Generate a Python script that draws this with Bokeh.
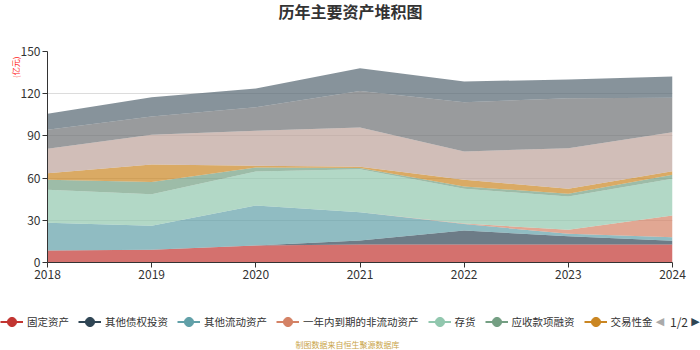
from bokeh.plotting import figure
from bokeh.models import ColumnDataSource, Range1d, FixedTicker, Label, Legend, LegendItem, Title
from bokeh.embed import file_html
from bokeh.resources import INLINE

# ---------------- data ----------------
years = [2018, 2019, 2020, 2021, 2022, 2023, 2024]
series_names = ["固定资产", "其他债权投资", "其他流动资产", "一年内到期的非流动资产",
                "存货", "应收款项融资", "交易性金融资产", "应收账款", "债权投资", "货币资金"]
legend_labels = ["固定资产", "其他债权投资", "其他流动资产", "一年内到期的非流动资产",
                 "存货", "应收款项融资", "交易性金"]
fixed_assets = [8.6, 9.0, 12.1, 12.8, 12.8, 12.8, 12.8]
other_debt_inv = [0.0, 0.0, 0.0, 2.9, 9.9, 5.9, 2.6]
other_current = [19.6, 17.1, 28.4, 20.0, 4.6, 1.7, 2.6]
noncurrent_due = [0.0, 0.0, 0.0, 0.0, 0.4, 2.8, 15.4]
inventory = [23.6, 22.5, 24.2, 30.6, 24.7, 23.7, 26.1]
receivable_fin = [7.0, 8.7, 2.8, 0.9, 1.6, 1.9, 2.8]
trading_fin = [4.7, 12.4, 1.2, 0.8, 4.8, 3.6, 2.6]
receivables = [17.3, 21.1, 24.9, 27.9, 20.1, 28.9, 27.7]
debt_inv = [13.5, 13.0, 16.8, 26.1, 35.1, 35.5, 24.5]
cash = [11.5, 13.7, 13.3, 16.1, 14.7, 13.3, 15.1]
y_ticks = [0, 30, 60, 90, 120, 150]

colors = ["#c23531", "#2f4554", "#61a0a8", "#d48265", "#91c7ae",
          "#749f83", "#ca8622", "#bda29a", "#6e7074", "#546570"]

values = [fixed_assets, other_debt_inv, other_current, noncurrent_due, inventory,
          receivable_fin, trading_fin, receivables, debt_inv, cash]
data = {"year": years}
for n, v in zip(series_names, values):
    data[n] = v
source = ColumnDataSource(data)

FONT = "Noto Sans CJK SC"
NAN = float("nan")


def strip(h):
    f = figure(width=700, height=h, output_backend="svg", toolbar_location=None,
               x_range=Range1d(0, 700), y_range=Range1d(h, 0),
               x_axis_type=None, y_axis_type=None, min_border=0)
    f.outline_line_color = None
    f.grid.visible = False
    return f


# ---------------- title strip ----------------
top = strip(30)
top.add_layout(Label(x=350, y=10, text="历年主要资产堆积图", text_align="center",
                     text_baseline="middle", text_font=FONT, text_font_size="16px",
                     text_font_style="bold", text_color="#333333"))

# ---------------- main chart ----------------
p = figure(width=700, height=260, output_backend="svg", toolbar_location=None,
           x_range=Range1d(2018, 2024), y_range=Range1d(0, 150),
           min_border_left=47, min_border_right=28, min_border_top=21, min_border_bottom=28)
p.outline_line_color = None

p.varea_stack(stackers=series_names, x="year", color=colors, fill_alpha=0.7, source=source)

p.xaxis.ticker = FixedTicker(ticks=years)
p.yaxis.ticker = FixedTicker(ticks=y_ticks)
for ax in (p.xaxis, p.yaxis):
    ax.axis_line_color = "#333333"
    ax.major_tick_line_color = "#333333"
    ax.major_tick_out = 5
    ax.major_tick_in = 0
    ax.minor_tick_line_color = None
    ax.major_label_text_font = FONT
    ax.major_label_text_font_size = "12px"
    ax.major_label_text_color = "#333333"
    ax.major_label_standoff = 2
p.xgrid.grid_line_color = None
p.ygrid.grid_line_color = "#dcdcdc"

p.add_layout(Title(text="(亿元)", align="right", text_font=FONT, text_font_size="8px",
                   text_color="#ff2020", text_font_style="normal", standoff=-6,
                   offset=5), "left")

# ---------------- legend / pager / source strip ----------------
bot = strip(60)
items = []
for lab, c in zip(legend_labels, colors):
    r1 = bot.line(x=[NAN], y=[NAN], line_color=c, line_width=2)
    r2 = bot.scatter(x=[NAN], y=[NAN], size=10, fill_color=c, line_color=c)
    items.append(LegendItem(label=lab, renderers=[r1, r2]))
legend = Legend(items=items, orientation="horizontal", location=(0, 16),
                glyph_width=23, glyph_height=25, label_standoff=4, spacing=9,
                padding=0, margin=0, border_line_color=None, background_fill_alpha=0,
                label_text_font=FONT, label_text_font_size="10.5px",
                label_text_color="#333333", label_height=14)
bot.add_layout(legend, "center")

bot.add_layout(Label(x=659.5, y=31, text="◀", text_align="center", text_baseline="middle",
                     text_font="DejaVu Sans", text_font_size="11px", text_color="#aaaaaa"))
bot.add_layout(Label(x=678.5, y=31, text="1/2", text_align="center", text_baseline="middle",
                     text_font=FONT, text_font_size="12px", text_color="#333333"))
bot.add_layout(Label(x=695, y=31, text="▶", text_align="center", text_baseline="middle",
                     text_font="DejaVu Sans", text_font_size="11px", text_color="#2f4554"))
bot.add_layout(Label(x=347, y=54, text="制图数据来自恒生聚源数据库", text_align="center",
                     text_baseline="middle", text_font=FONT, text_font_size="8px",
                     text_color="#c9a449"))

open("out.html", "w").write(file_html([top, p, bot], INLINE))
